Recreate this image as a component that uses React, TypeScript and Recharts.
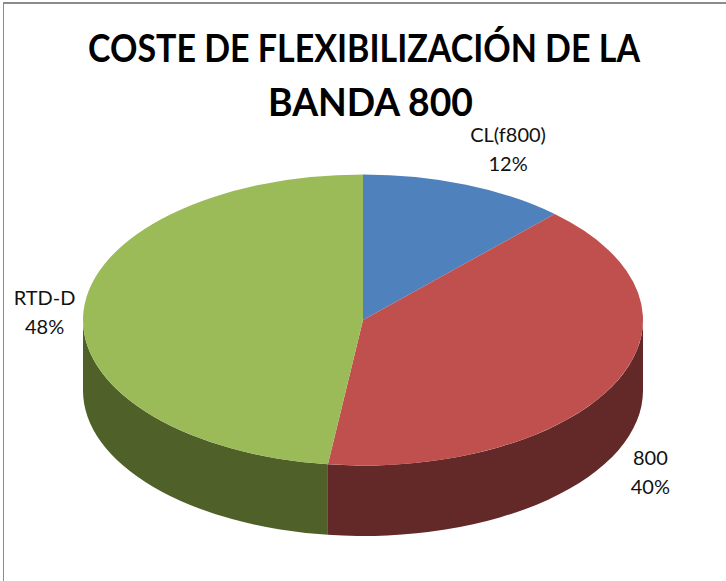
import { Pie, PieChart } from "recharts"

const categories = ["CL(f800)", "800", "RTD-D"]
const shares = [12, 40, 48]
const topColors = ["#4f81bd", "#c0504d", "#9bbb59"]
const wallColors = ["#2a4565", "#632928", "#4f6029"]
const titleLines = ["COSTE DE FLEXIBILIZACIÓN DE LA", "BANDA 800"]

const WIDTH = 726
const HEIGHT = 581
const FONT = "Lato, sans-serif"

// vertical squash of the disc and thickness of its side
const SQUASH = 145.5 / 280
const DEPTH = 70.5

// title lines are squeezed to the reference widths (Lato runs wider than the original font)
const titleLayout = [
  { x: 364, y: 61.5, width: 552 },
  { x: 370.5, y: 115.5, width: 205 },
]

// where each label sits relative to the rim point at the middle of its slice
const labelOffsets = [
  { dx: 42, dy: -34 },
  { dx: 34, dy: 92 },
  { dx: -39, dy: 3 },
]

const rad = (deg: number) => (deg * Math.PI) / 180

function SliceShape(props: any) {
  const { cx, cy, outerRadius, startAngle, endAngle, index } = props
  const rx = outerRadius
  const ry = outerRadius * SQUASH
  const px = (a: number) => cx + rx * Math.cos(rad(a))
  const py = (a: number) => cy - ry * Math.sin(rad(a))
  const large = Math.abs(startAngle - endAngle) > 180 ? 1 : 0

  const top = `M${cx},${cy} L${px(startAngle)},${py(startAngle)} A${rx},${ry} 0 ${large} 1 ${px(endAngle)},${py(endAngle)} Z`

  // only the front half of the rim shows a side wall
  const hi = Math.min(startAngle, 0)
  const lo = Math.max(endAngle, -180)
  const wall =
    lo < hi
      ? `M${px(hi)},${py(hi)} A${rx},${ry} 0 0 1 ${px(lo)},${py(lo)} L${px(lo)},${py(lo) + DEPTH} A${rx},${ry} 0 0 0 ${px(hi)},${py(hi) + DEPTH} Z`
      : null

  return (
    <g>
      {wall && <path d={wall} fill={wallColors[index]} />}
      <path d={top} fill={topColors[index]} />
    </g>
  )
}

function SliceLabel(props: any) {
  const { cx, cy, outerRadius, midAngle, index, name, value } = props
  const x = cx + outerRadius * Math.cos(rad(midAngle)) + labelOffsets[index].dx
  const y = cy - outerRadius * SQUASH * Math.sin(rad(midAngle)) + labelOffsets[index].dy
  return (
    <text x={x} y={y} textAnchor="middle" fontFamily={FONT} fontSize={20} fill="#111">
      <tspan x={x} dy={-9}>{name}</tspan>
      <tspan x={x} dy={29.5}>{value}%</tspan>
    </text>
  )
}

const data = categories.map((name, i) => ({ name, value: shares[i] }))

export default function App() {
  return (
    <div style={{ position: "absolute", left: 0, top: 0, width: WIDTH, height: HEIGHT, background: "#fff", overflow: "hidden" }}>
      <div
        style={{
          position: "absolute",
          left: 3,
          top: 2,
          width: 740,
          height: 600,
          borderTop: "2px solid #8c8c8c",
          borderLeft: "1.5px solid #8c8c8c",
        }}
      />
      <div style={{ position: "absolute", left: 0, top: 0 }}>
        <PieChart width={WIDTH} height={HEIGHT} margin={{ top: 0, right: 0, bottom: 0, left: 0 }}>
          {titleLines.map((line, i) => (
            <text
              key={line}
              x={titleLayout[i].x}
              y={titleLayout[i].y}
              textAnchor="middle"
              fontFamily={FONT}
              fontWeight={700}
              fontSize={39}
              textLength={titleLayout[i].width}
              lengthAdjust="spacingAndGlyphs"
              fill="#000"
            >
              {line}
            </text>
          ))}
          <Pie
            data={data}
            dataKey="value"
            nameKey="name"
            cx={363}
            cy={320}
            outerRadius={280}
            startAngle={90}
            endAngle={-270}
            stroke="none"
            shape={SliceShape}
            label={SliceLabel}
            labelLine={false}
            isAnimationActive={false}
          />
        </PieChart>
      </div>
    </div>
  )
}
